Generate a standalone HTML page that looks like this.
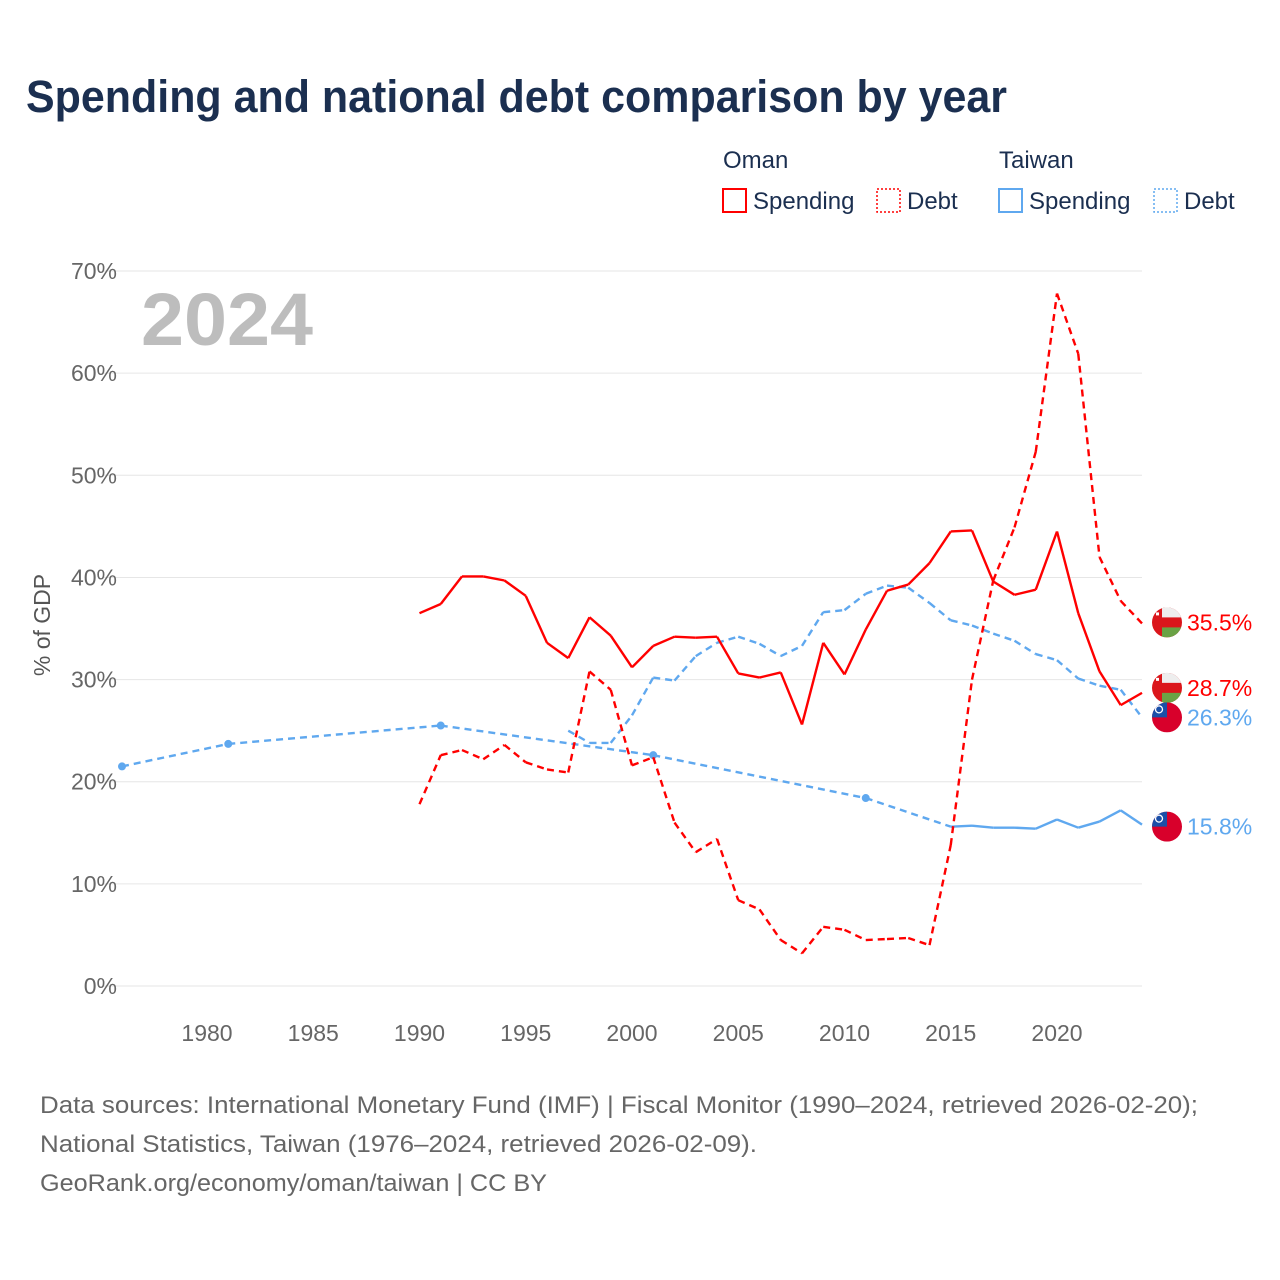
<!DOCTYPE html>
<html><head><meta charset="utf-8"><style>
html,body{margin:0;padding:0;background:#fff;}
body{width:1280px;height:1280px;position:relative;font-family:"Liberation Sans",sans-serif;overflow:hidden;}
</style></head><body>
<svg id="chart" width="1280" height="1280" xmlns="http://www.w3.org/2000/svg" style="position:absolute;left:0;top:0">
<text x="26" y="112" font-size="45" font-weight="bold" fill="#1b2f50" textLength="981" lengthAdjust="spacingAndGlyphs" font-family="Liberation Sans, sans-serif">Spending and national debt comparison by year</text>
<g font-size="24" fill="#1b2f50">
<text x="723" y="168">Oman</text>
<text x="999" y="168">Taiwan</text>
<g><rect x="723" y="189" width="23" height="23" fill="none" stroke="#f00" stroke-width="2"/><text x="753" y="209">Spending</text></g>
<g><rect x="877" y="189" width="23" height="23" fill="none" stroke="#f00" stroke-width="1.5" stroke-dasharray="2 2"/><text x="907" y="209">Debt</text></g>
<g><rect x="999" y="189" width="23" height="23" fill="none" stroke="#5fa8ef" stroke-width="2"/><text x="1029" y="209">Spending</text></g>
<g><rect x="1154" y="189" width="23" height="23" fill="none" stroke="#5fa8ef" stroke-width="1.5" stroke-dasharray="2 2"/><text x="1184" y="209">Debt</text></g>
</g>
<g id="grid"></g>
<text x="141" y="345" font-size="74" font-weight="bold" fill="#bdbdbd" textLength="172" lengthAdjust="spacingAndGlyphs">2024</text>
<text transform="translate(50,625) rotate(-90)" text-anchor="middle" font-size="23" fill="#555">% of GDP</text>
<g id="series"></g>
<g id="labels"></g>
<g font-size="24" fill="#666">
<text x="40" y="1113" textLength="1158" lengthAdjust="spacingAndGlyphs">Data sources: International Monetary Fund (IMF) | Fiscal Monitor (1990–2024, retrieved 2026-02-20);</text>
<text x="40" y="1152" textLength="717" lengthAdjust="spacingAndGlyphs">National Statistics, Taiwan (1976–2024, retrieved 2026-02-09).</text>
<text x="40" y="1191" textLength="507" lengthAdjust="spacingAndGlyphs">GeoRank.org/economy/oman/taiwan | CC BY</text>
</g>
</svg>
<script>
const yTicks=[0,10,20,30,40,50,60,70];
const xTicks=[1980,1985,1990,1995,2000,2005,2010,2015,2020];
const omanYears=[1990,1991,1992,1993,1994,1995,1996,1997,1998,1999,2000,2001,2002,2003,2004,2005,2006,2007,2008,2009,2010,2011,2012,2013,2014,2015,2016,2017,2018,2019,2020,2021,2022,2023,2024];
const omanSpending=[36.5,37.4,40.1,40.1,39.7,38.2,33.6,32.1,36.1,34.3,31.2,33.3,34.2,34.1,34.2,30.6,30.2,30.7,25.6,33.6,30.5,34.9,38.7,39.3,41.4,44.5,44.6,39.6,38.3,38.8,44.5,36.5,30.8,27.5,28.7];
const omanDebt=[17.8,22.6,23.1,22.2,23.6,21.9,21.2,20.9,30.8,29.0,21.6,22.4,16.0,13.1,14.4,8.4,7.5,4.5,3.2,5.8,5.5,4.5,4.6,4.7,4.0,13.8,30.0,39.7,44.9,52.3,67.8,61.9,42.0,37.7,35.5];
const twSpendYears=[1976,1981,1991,2001,2011,2015,2016,2017,2018,2019,2020,2021,2022,2023,2024];
const twSpending=[21.5,23.7,25.5,22.6,18.4,15.6,15.7,15.5,15.5,15.4,16.3,15.5,16.1,17.2,15.8];
const twDebtYears=[1997,1998,1999,2000,2001,2002,2003,2004,2005,2006,2007,2008,2009,2010,2011,2012,2013,2014,2015,2016,2017,2018,2019,2020,2021,2022,2023,2024];
const twDebt=[25.0,23.8,23.8,26.5,30.2,29.9,32.3,33.6,34.2,33.5,32.3,33.3,36.6,36.8,38.4,39.2,39.0,37.5,35.8,35.3,34.5,33.8,32.5,31.9,30.1,29.4,29.0,26.3];

const NS='http://www.w3.org/2000/svg';
const X=y=>122+(y-1976)*21.25;
const Y=v=>986-v*10.214;
function mk(tag,attrs,parent){const e=document.createElementNS(NS,tag);for(const k in attrs)e.setAttribute(k,attrs[k]);parent.appendChild(e);return e;}
const grid=document.getElementById('grid');
yTicks.forEach(t=>{
  const l=mk('line',{x1:104,x2:1142,y1:Y(t),y2:Y(t),stroke:'#e6e6e6','stroke-width':1},grid);
  
  
  const tx=mk('text',{x:117,y:Y(t)+8,'text-anchor':'end','font-size':23,fill:'#666'},grid);
  tx.textContent=t+'%';
  
  
});
xTicks.forEach(t=>{
  const tx=mk('text',{x:X(t),y:1041,'text-anchor':'middle','font-size':23,fill:'#666'},grid);
  tx.textContent=t;
  
  
});
const S=document.getElementById('series');
function draw(years,vals,color,dashed,name){
  const g=mk('g',{},S);
  
  
  for(let i=0;i<years.length-1;i++){
    const gap=years[i+1]-years[i]>1;
    const a={x1:X(years[i]),y1:Y(vals[i]),x2:X(years[i+1]),y2:Y(vals[i+1]),stroke:color,'stroke-width':2.4,'stroke-linecap':'butt'};
    if(dashed||gap)a['stroke-dasharray']='7 5';
    mk('line',a,g);
  }
  if(!dashed){
    for(let i=0;i<years.length;i++){
      const prevGap=i===0||years[i]-years[i-1]>1, nextGap=i===years.length-1||years[i+1]-years[i]>1;
      if(prevGap&&nextGap){const c=mk('circle',{cx:X(years[i]),cy:Y(vals[i]),r:4,fill:color},g);}
    }
  }
}
draw(twSpendYears,twSpending,'#5fa8ef',false,'taiwan-spending-line');
draw(twDebtYears,twDebt,'#5fa8ef',true,'taiwan-debt-line');
draw(omanYears,omanSpending,'#f00',false,'oman-spending-line');
draw(omanYears,omanDebt,'#f00',true,'oman-debt-line');

const L=document.getElementById('labels');
function flag(cy,country,val,color,name){
  const g=mk('g',{},L);
  
  
  const cx=1167,r=15;
  const id='clip'+name;
  const cp=mk('clipPath',{id:id},g);mk('circle',{cx:cx,cy:cy,r:r},cp);
  const f=mk('g',{'clip-path':'url(#'+id+')'},g);
  if(country==='oman'){
    mk('rect',{x:cx-r,y:cy-r,width:2*r,height:2*r,fill:'#db161b'},f);
    mk('rect',{x:cx-r+10,y:cy-r,width:2*r,height:10,fill:'#eee'},f);
    mk('rect',{x:cx-r+10,y:cy+5,width:2*r,height:10,fill:'#6aa245'},f);
    mk('rect',{x:cx-r+4,y:cy-r+5,width:3,height:3,fill:'#fff'},f);
  }else{
    mk('rect',{x:cx-r,y:cy-r,width:2*r,height:2*r,fill:'#d8002b'},f);
    mk('rect',{x:cx-r,y:cy-r,width:15,height:15,fill:'#1b4fa8'},f);
    mk('circle',{cx:cx-8,cy:cy-8,r:3.5,fill:'none',stroke:'#fff','stroke-width':1.3},f);
  }
  const t=mk('text',{x:1187,y:cy+8,'font-size':23,fill:color},g);
  t.textContent=val.toFixed(1)+'%';
}
flag(Y(omanDebt[omanDebt.length-1])-1,'oman',omanDebt[omanDebt.length-1],'#f00','oman-debt-end-label');
flag(Y(omanSpending[omanSpending.length-1])-5,'oman',omanSpending[omanSpending.length-1],'#f00','oman-spending-end-label');
flag(Y(twDebt[twDebt.length-1])+0,'taiwan',twDebt[twDebt.length-1],'#5fa8ef','taiwan-debt-end-label');
flag(Y(twSpending[twSpending.length-1])+2,'taiwan',twSpending[twSpending.length-1],'#5fa8ef','taiwan-spending-end-label');
</script>
</body></html>
